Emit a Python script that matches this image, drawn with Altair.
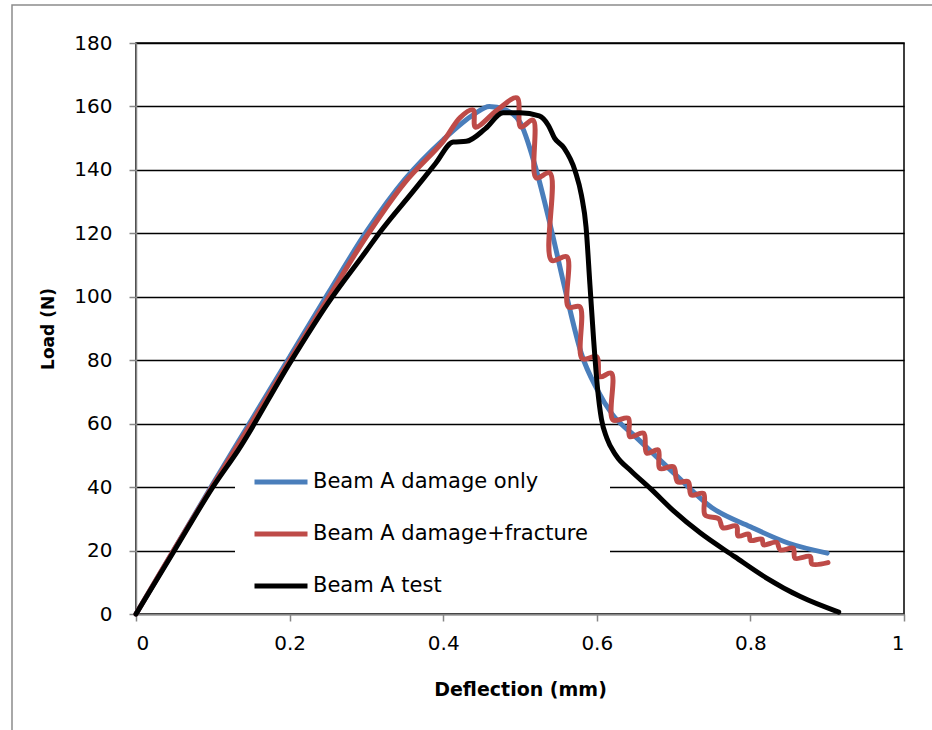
import altair as alt
import pandas as pd

# ---- data ----
series_names = ["Beam A damage only", "Beam A damage+fracture", "Beam A test"]
series_colors = ["#4A7EBB", "#BE4B48", "#000000"]

damage_x = [0, 0.05, 0.1, 0.15, 0.2, 0.25, 0.3, 0.35, 0.4, 0.44, 0.46, 0.48, 0.5,
            0.52, 0.54, 0.56, 0.58, 0.6, 0.62, 0.65, 0.7, 0.75, 0.8, 0.85, 0.9]
damage_y = [0, 20.5, 41, 61, 81, 101, 120.5, 137, 149.5, 157.5, 160, 159, 155,
            141, 122, 101, 82, 71, 63, 56, 44.5, 33.5, 27.5, 22.3, 19.2]

fracture_x = [0, 0.05, 0.1, 0.15, 0.2, 0.25, 0.3, 0.35, 0.4,
              0.422, 0.439, 0.442, 0.47, 0.496, 0.501, 0.517, 0.521,
              0.539, 0.541, 0.561, 0.563, 0.578, 0.581, 0.600, 0.604,
              0.619, 0.621, 0.641, 0.643, 0.661, 0.665, 0.680, 0.682,
              0.700, 0.705, 0.719, 0.723, 0.739, 0.741, 0.759, 0.764,
              0.782, 0.784, 0.798, 0.800, 0.815, 0.817, 0.834, 0.839,
              0.856, 0.858, 0.878, 0.880, 0.901]
fracture_y = [0, 20.5, 40.5, 60, 80, 99.5, 119, 136, 149,
              156.5, 158.9, 153.5, 158.8, 162.7, 153.5, 155.7, 137.5,
              139, 111.5, 112.6, 96.8, 96.8, 80.5, 81.1, 74.8,
              75.9, 61.2, 61.7, 55.9, 57, 50.7, 51.7, 45.9,
              46.4, 41.7, 41.7, 37.5, 38, 31.2, 30, 27.2,
              27.7, 24.6, 25.2, 23.2, 23.6, 21.8, 22.6, 20.2,
              20.7, 17.6, 18.1, 15.8, 16.2]

test_x = [0, 0.05, 0.1, 0.134, 0.2, 0.25, 0.3, 0.318, 0.36, 0.39, 0.413, 0.43,
          0.455, 0.478, 0.50, 0.525, 0.537, 0.545, 0.557, 0.572, 0.58, 0.586,
          0.591, 0.596, 0.601, 0.606, 0.613, 0.625, 0.645, 0.67, 0.7, 0.735,
          0.78, 0.82, 0.865, 0.915]
test_y = [0, 20, 40, 52, 79, 98, 114.5, 120.5, 133, 142, 148.8, 149,
          153, 158, 158, 157, 154, 150, 147, 139.5, 132, 122,
          104, 86, 71, 61.5, 55.5, 50, 45, 39.5, 32.5, 25.5,
          18, 11.5, 5.5, 0.6]

x_ticks = [0, 0.2, 0.4, 0.6, 0.8, 1]
y_ticks = [0, 20, 40, 60, 80, 100, 120, 140, 160, 180]


def frame(name, xs, ys):
    return pd.DataFrame({"series": name, "x": xs, "y": ys, "i": list(range(len(xs)))})


df = pd.concat([
    frame(series_names[0], damage_x, damage_y),
    frame(series_names[1], fracture_x, fracture_y),
    frame(series_names[2], test_x, test_y),
], ignore_index=True)

W, H = 768, 571

x_enc = alt.X("x:Q", scale=alt.Scale(domain=[0, 1], nice=False, zero=False),
              axis=alt.Axis(values=x_ticks, format="~g", title="Deflection (mm)",
                            grid=False, labelPadding=12, titleFontSize=19,
                            titleY=81, titleBaseline="alphabetic"))
y_enc = alt.Y("y:Q", scale=alt.Scale(domain=[0, 180], nice=False),
              axis=alt.Axis(values=y_ticks, title="Load (N)", grid=True,
                            labelPadding=17, titleFontSize=17, titleX=-88,
                            titleBaseline="middle"))
color_enc = alt.Color("series:N",
                      scale=alt.Scale(domain=series_names, range=series_colors),
                      legend=alt.Legend(title=None, orient="none", legendX=116, legendY=410,
                                        symbolType="stroke", symbolSize=2809,
                                        symbolStrokeWidth=5, labelFontSize=21,
                                        labelFont="DejaVu Sans", labelColor="black",
                                        labelLimit=0, labelOffset=3, rowPadding=13,
                                        padding=0))

one = pd.DataFrame({"k": [0]})

outer = alt.Chart(one).mark_rect(fillOpacity=0, stroke="#8C8C8C", strokeWidth=1.5).encode(
    x=alt.value(-124), x2=alt.value(820), y=alt.value(-38), y2=alt.value(720))

legend_bg = alt.Chart(one).mark_rect(fill="white").encode(
    x=alt.value(99), x2=alt.value(474), y=alt.value(415), y2=alt.value(557))

interps = ["monotone", "catmull-rom", "monotone"]
lines = []
for name, interp in zip(series_names, interps):
    lines.append(
        alt.Chart(df).transform_filter(alt.datum.series == name)
        .mark_line(interpolate=interp, strokeWidth=5, strokeCap="round", strokeJoin="round")
        .encode(x=x_enc, y=y_enc, color=color_enc, order=alt.Order("i:Q"))
    )

chart = alt.layer(outer, legend_bg, *lines).properties(
    width=W, height=H,
    padding={"left": 136, "top": 43, "right": 28, "bottom": 116},
    autosize=alt.AutoSizeParams(type="none"),
).configure_view(stroke="black", strokeWidth=1.5).configure_axis(
    domainColor="#868686", domainWidth=1.5, tickColor="#868686", tickWidth=1.5,
    tickSize=7, labelFont="DejaVu Sans", labelFontSize=20, labelColor="black",
    gridColor="black", gridWidth=1.5, titleFont="DejaVu Sans", titleFontWeight="bold",
    titleColor="black"
)

chart.save("out.html", embed_options={"renderer": "svg", "actions": False})
